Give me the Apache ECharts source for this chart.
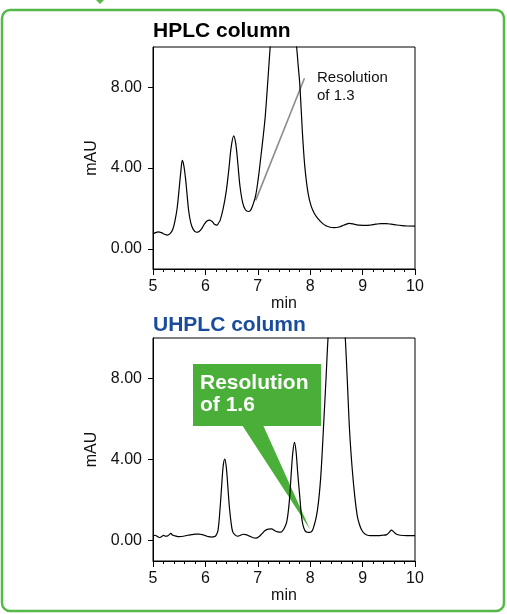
<!DOCTYPE html>
<html>
<head>
<meta charset="utf-8">
<style>
  html, body { margin: 0; padding: 0; background: #fff; }
  #chart { width: 507px; height: 614px; }
</style>
<script src="https://cdn.jsdelivr.net/npm/echarts@6/dist/echarts.min.js"></script>
</head>
<body>
<div id="chart"></div>
<script>
// HPLC trace (retention time in min, absorbance in mAU)
const hplcTime = [5.00, 5.05, 5.10, 5.16, 5.22, 5.28, 5.33, 5.38, 5.42, 5.46, 5.50, 5.53, 5.56, 5.59, 5.62, 5.65, 5.68, 5.72, 5.77, 5.83, 5.88, 5.93, 5.98, 6.03, 6.08, 6.13, 6.18, 6.22, 6.25, 6.28, 6.34, 6.40, 6.45, 6.49, 6.54, 6.58, 6.62, 6.66, 6.71, 6.76, 6.82, 6.86, 6.91, 6.96, 7.01, 7.06, 7.10, 7.14, 7.18, 7.22, 7.26, 7.32, 7.40, 7.48, 7.56, 7.64, 7.70, 7.74, 7.77, 7.80, 7.83, 7.86, 7.90, 7.96, 8.02, 8.08, 8.14, 8.22, 8.30, 8.38, 8.46, 8.55, 8.65, 8.75, 8.85, 8.95, 9.05, 9.15, 9.25, 9.35, 9.45, 9.55, 9.65, 9.75, 9.85, 10.00];
const hplcAbs  = [0.74, 0.80, 0.84, 0.80, 0.72, 0.68, 0.76, 0.98, 1.40, 2.00, 3.00, 3.80, 4.38, 4.10, 3.50, 2.70, 1.90, 1.30, 0.95, 0.82, 0.86, 1.00, 1.22, 1.38, 1.42, 1.35, 1.20, 1.17, 1.28, 1.40, 2.00, 2.90, 4.00, 5.00, 5.60, 5.20, 4.20, 3.10, 2.30, 1.95, 1.85, 1.90, 2.20, 2.65, 3.50, 4.60, 5.50, 6.50, 7.90, 9.40, 10.80, 12.40, 13.60, 14.00, 13.40, 12.00, 10.60, 10.00, 9.10, 8.20, 6.80, 5.40, 4.00, 2.75, 2.10, 1.75, 1.52, 1.30, 1.14, 1.07, 1.05, 1.08, 1.18, 1.26, 1.21, 1.17, 1.16, 1.18, 1.22, 1.25, 1.25, 1.22, 1.18, 1.15, 1.13, 1.12];

// UHPLC trace
const uhplcTime = [5.00, 5.04, 5.08, 5.12, 5.16, 5.20, 5.24, 5.28, 5.31, 5.34, 5.37, 5.42, 5.50, 5.58, 5.66, 5.74, 5.82, 5.88, 5.94, 6.00, 6.06, 6.12, 6.17, 6.20, 6.24, 6.28, 6.31, 6.34, 6.37, 6.40, 6.43, 6.46, 6.49, 6.52, 6.56, 6.61, 6.66, 6.72, 6.77, 6.83, 6.90, 6.96, 7.02, 7.08, 7.14, 7.20, 7.26, 7.32, 7.38, 7.44, 7.49, 7.52, 7.55, 7.58, 7.61, 7.64, 7.67, 7.70, 7.73, 7.76, 7.80, 7.83, 7.86, 7.90, 7.94, 7.99, 8.04, 8.08, 8.11, 8.14, 8.17, 8.20, 8.23, 8.26, 8.30, 8.34, 8.40, 8.46, 8.51, 8.56, 8.62, 8.67, 8.71, 8.75, 8.80, 8.85, 8.90, 8.94, 8.98, 9.03, 9.08, 9.15, 9.27, 9.38, 9.46, 9.51, 9.55, 9.59, 9.64, 9.72, 9.84, 10.00];
const uhplcAbs  = [0.21, 0.27, 0.22, 0.16, 0.20, 0.26, 0.22, 0.24, 0.30, 0.36, 0.28, 0.24, 0.20, 0.22, 0.27, 0.30, 0.33, 0.33, 0.30, 0.25, 0.20, 0.18, 0.20, 0.25, 0.50, 1.60, 2.70, 3.70, 4.03, 3.60, 2.60, 1.60, 0.90, 0.45, 0.30, 0.22, 0.26, 0.32, 0.30, 0.24, 0.16, 0.13, 0.20, 0.35, 0.50, 0.57, 0.58, 0.50, 0.44, 0.42, 0.55, 0.70, 0.90, 1.40, 2.20, 3.40, 4.40, 4.85, 4.40, 3.40, 2.20, 1.30, 0.80, 0.50, 0.42, 0.41, 0.50, 0.80, 1.10, 1.55, 2.20, 3.10, 4.40, 5.90, 7.90, 10.00, 12.30, 13.50, 13.80, 13.50, 12.20, 10.00, 7.80, 5.50, 3.60, 2.20, 1.20, 0.80, 0.54, 0.36, 0.28, 0.25, 0.25, 0.27, 0.30, 0.42, 0.52, 0.45, 0.33, 0.27, 0.25, 0.25];

// Resolution marker on the HPLC trace: valley to label
const hplcResolutionLine = [[6.96, 2.4], [7.89, 8.45]];
// Point the UHPLC resolution callout aims at (valley between peaks)
const uhplcResolutionPoint = [8.0, 0.54];

const yTicks = [0, 4, 8];
const panelTitles = ['HPLC column', 'UHPLC column'];
const hplcNote = 'Resolution\nof 1.3';
const uhplcNote = 'Resolution\nof 1.6';

const FONT = '"Liberation Sans", Arial, Helvetica, sans-serif';
const GREEN = '#4aaf38';

function pairs(xs, ys) { return xs.map((x, i) => [x, ys[i]]); }

function xAxisFor(gridIndex) {
  return {
    type: 'value', gridIndex, min: 5, max: 10, interval: 1,
    name: 'min', nameLocation: 'middle', nameGap: 24,
    nameTextStyle: { fontFamily: FONT, fontSize: 16, color: '#111' },
    axisLine: { show: true, onZero: false, lineStyle: { color: '#000', width: 1 } },
    axisTick: { show: true, length: 6, lineStyle: { color: '#000', width: 1 } },
    minorTick: { show: true, splitNumber: 5, length: 3, lineStyle: { color: '#000', width: 1 } },
    axisLabel: { fontFamily: FONT, fontSize: 16, color: '#111', margin: 10 },
    splitLine: { show: false }
  };
}

function yAxisFor(gridIndex) {
  return {
    type: 'value', gridIndex, min: -1, max: 10,
    name: 'mAU', nameLocation: 'middle', nameGap: 48,
    nameTextStyle: { fontFamily: FONT, fontSize: 16, color: '#111' },
    axisLine: { show: true, onZero: false, lineStyle: { color: '#000', width: 1 } },
    axisTick: { show: true, length: 5, customValues: yTicks, lineStyle: { color: '#000', width: 1 } },
    axisLabel: { fontFamily: FONT, fontSize: 16, color: '#111', margin: 11,
      customValues: yTicks, formatter: v => Number(v).toFixed(2) },
    splitLine: { show: false }
  };
}

const chart = echarts.init(document.getElementById('chart'), null, { renderer: 'canvas' });

const traceStyle = { color: '#000', width: 1.2 };

chart.setOption({
  animation: false,
  backgroundColor: '#fff',
  title: [
    { text: panelTitles[0], left: 153, top: 21, padding: 0,
      textStyle: { fontFamily: FONT, fontSize: 21, fontWeight: 'bold', color: '#000' } },
    { text: panelTitles[1], left: 153, top: 315, padding: 0,
      textStyle: { fontFamily: FONT, fontSize: 21, fontWeight: 'bold', color: '#1a4c9c' } }
  ],
  grid: [
    { left: 153, top: 47, width: 262, height: 222, show: true, borderColor: '#000', borderWidth: 1, backgroundColor: 'transparent' },
    { left: 153, top: 338, width: 262, height: 223, show: true, borderColor: '#000', borderWidth: 1, backgroundColor: 'transparent' }
  ],
  xAxis: [xAxisFor(0), xAxisFor(1)],
  yAxis: [yAxisFor(0), yAxisFor(1)],
  series: [
    { type: 'line', xAxisIndex: 0, yAxisIndex: 0, data: pairs(hplcTime, hplcAbs),
      smooth: 0.35, showSymbol: false, lineStyle: traceStyle, z: 3, silent: true },
    { type: 'line', xAxisIndex: 0, yAxisIndex: 0, data: hplcResolutionLine,
      showSymbol: false, lineStyle: { color: '#8c8c8c', width: 1.6 }, z: 2, silent: true },
    { type: 'line', xAxisIndex: 1, yAxisIndex: 1, data: pairs(uhplcTime, uhplcAbs),
      smooth: 0.35, showSymbol: false, lineStyle: traceStyle, z: 3, silent: true }
  ]
});

// Frame, labels and the callout bubble pointing at the UHPLC valley
const tip = chart.convertToPixel({ gridIndex: 1 }, uhplcResolutionPoint);

chart.setOption({
  graphic: [
    { type: 'rect', z: 0, shape: { x: 2, y: 10, width: 502, height: 601, r: 8 },
      style: { fill: 'none', stroke: '#55b947', lineWidth: 2.5 } },
    { type: 'polygon', z: 0, shape: { points: [[96, 0], [104, 0], [100, 4]] },
      style: { fill: '#55b947' } },
    { type: 'text', z: 5, x: 317, y: 69,
      style: { text: hplcNote, fontFamily: FONT, fontSize: 15, lineHeight: 18, fill: '#111' } },
    { type: 'polygon', z: 1, shape: { points: [[242, 425], [263, 425], tip] },
      style: { fill: GREEN } },
    { type: 'rect', z: 1, shape: { x: 193, y: 364, width: 128, height: 62 },
      style: { fill: GREEN } },
    { type: 'text', z: 5, x: 200, y: 372,
      style: { text: uhplcNote, fontFamily: FONT, fontSize: 21, fontWeight: 'bold', lineHeight: 22, fill: '#fff' } }
  ]
});
</script>
</body>
</html>
